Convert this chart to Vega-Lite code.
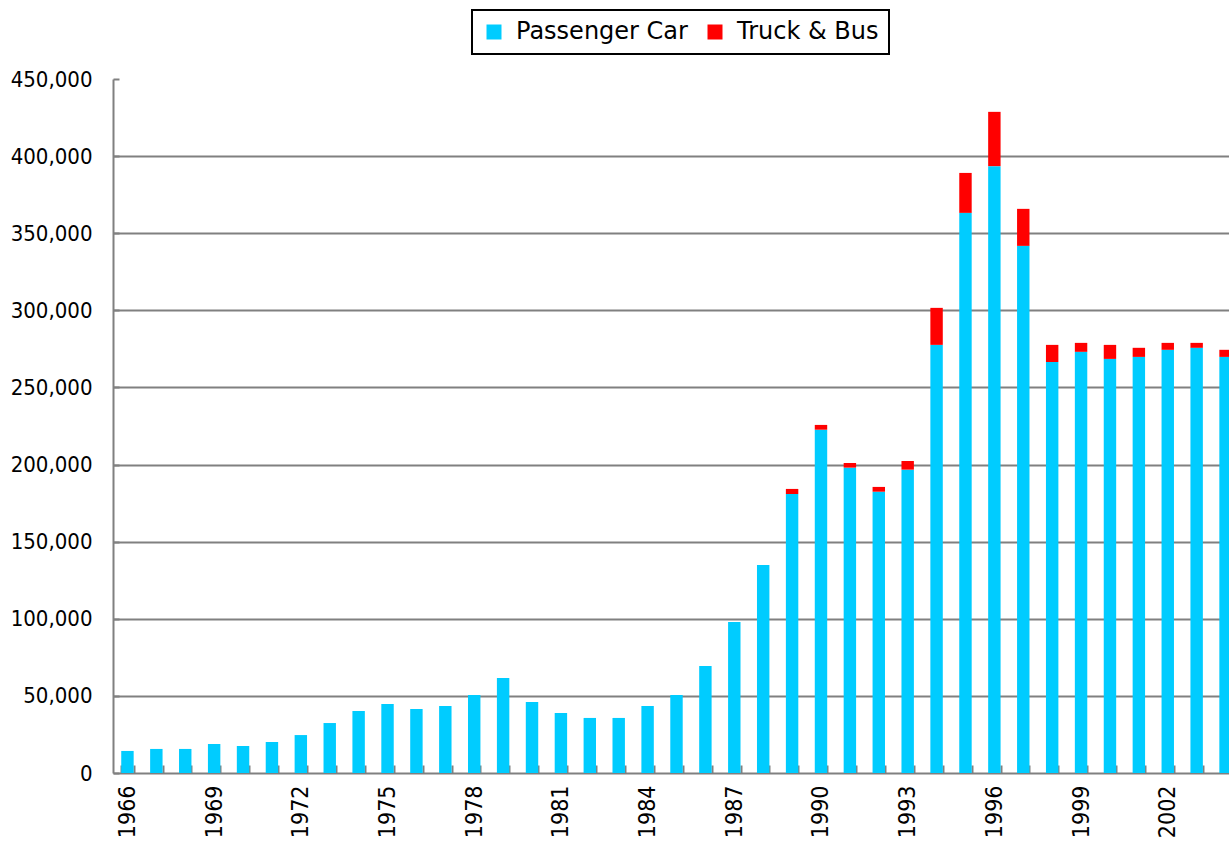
{
  "$schema": "https://vega.github.io/schema/vega-lite/v6.json",
  "width": 1127,
  "height": 694,
  "autosize": {"type": "none"},
  "padding": {"left": 113, "top": 79, "right": 0, "bottom": 69},
  "background": "white",
  "config": {"view": {"stroke": null}},
  "data": {"values": [
    {"year": 1966, "type": "Passenger Car", "value": 14300},
    {"year": 1967, "type": "Passenger Car", "value": 15600},
    {"year": 1968, "type": "Passenger Car", "value": 15600},
    {"year": 1969, "type": "Passenger Car", "value": 18800},
    {"year": 1970, "type": "Passenger Car", "value": 17500},
    {"year": 1971, "type": "Passenger Car", "value": 20100},
    {"year": 1972, "type": "Passenger Car", "value": 24600},
    {"year": 1973, "type": "Passenger Car", "value": 32400},
    {"year": 1974, "type": "Passenger Car", "value": 40200},
    {"year": 1975, "type": "Passenger Car", "value": 44700},
    {"year": 1976, "type": "Passenger Car", "value": 41500},
    {"year": 1977, "type": "Passenger Car", "value": 43400},
    {"year": 1978, "type": "Passenger Car", "value": 50600},
    {"year": 1979, "type": "Passenger Car", "value": 61600},
    {"year": 1980, "type": "Passenger Car", "value": 46000},
    {"year": 1981, "type": "Passenger Car", "value": 38900},
    {"year": 1982, "type": "Passenger Car", "value": 35700},
    {"year": 1983, "type": "Passenger Car", "value": 35700},
    {"year": 1984, "type": "Passenger Car", "value": 43400},
    {"year": 1985, "type": "Passenger Car", "value": 50600},
    {"year": 1986, "type": "Passenger Car", "value": 69400},
    {"year": 1987, "type": "Passenger Car", "value": 97900},
    {"year": 1988, "type": "Passenger Car", "value": 134900},
    {"year": 1989, "type": "Passenger Car", "value": 180900},
    {"year": 1990, "type": "Passenger Car", "value": 222600},
    {"year": 1991, "type": "Passenger Car", "value": 198000},
    {"year": 1992, "type": "Passenger Car", "value": 182400},
    {"year": 1993, "type": "Passenger Car", "value": 196700},
    {"year": 1994, "type": "Passenger Car", "value": 277600},
    {"year": 1995, "type": "Passenger Car", "value": 363200},
    {"year": 1996, "type": "Passenger Car", "value": 393500},
    {"year": 1997, "type": "Passenger Car", "value": 341800},
    {"year": 1998, "type": "Passenger Car", "value": 266500},
    {"year": 1999, "type": "Passenger Car", "value": 273100},
    {"year": 2000, "type": "Passenger Car", "value": 268500},
    {"year": 2001, "type": "Passenger Car", "value": 269800},
    {"year": 2002, "type": "Passenger Car", "value": 274400},
    {"year": 2003, "type": "Passenger Car", "value": 275700},
    {"year": 2004, "type": "Passenger Car", "value": 269800},
    {"year": 1989, "type": "Truck & Bus", "value": 3300},
    {"year": 1990, "type": "Truck & Bus", "value": 3100},
    {"year": 1991, "type": "Truck & Bus", "value": 3000},
    {"year": 1992, "type": "Truck & Bus", "value": 3100},
    {"year": 1993, "type": "Truck & Bus", "value": 5600},
    {"year": 1994, "type": "Truck & Bus", "value": 24000},
    {"year": 1995, "type": "Truck & Bus", "value": 25900},
    {"year": 1996, "type": "Truck & Bus", "value": 35200},
    {"year": 1997, "type": "Truck & Bus", "value": 24000},
    {"year": 1998, "type": "Truck & Bus", "value": 11100},
    {"year": 1999, "type": "Truck & Bus", "value": 5800},
    {"year": 2000, "type": "Truck & Bus", "value": 9100},
    {"year": 2001, "type": "Truck & Bus", "value": 5900},
    {"year": 2002, "type": "Truck & Bus", "value": 4500},
    {"year": 2003, "type": "Truck & Bus", "value": 3200},
    {"year": 2004, "type": "Truck & Bus", "value": 4600}
  ]},
  "mark": {"type": "bar"},
  "encoding": {
    "x": {
      "field": "year",
      "type": "ordinal",
      "scale": {"paddingInner": 0.57, "paddingOuter": 0.285},
      "axis": {
        "title": null,
        "labelAngle": -90,
        "labelExpr": "(datum.value - 1966) % 3 == 0 ? datum.value : ''",
        "labelFont": "DejaVu Sans Condensed",
        "labelFontSize": 23,
        "labelColor": "black",
        "labelPadding": 20,
        "tickBand": "extent",
        "tickSize": -8,
        "tickColor": "#808080",
        "tickWidth": 2,
        "domainColor": "#808080",
        "domainWidth": 2,
        "grid": false
      }
    },
    "y": {
      "field": "value",
      "type": "quantitative",
      "stack": "zero",
      "scale": {"domain": [0, 450000], "nice": false},
      "axis": {
        "title": null,
        "values": [0, 50000, 100000, 150000, 200000, 250000, 300000, 350000, 400000, 450000],
        "format": ",.0f",
        "labelFont": "DejaVu Sans Condensed",
        "labelFontSize": 22,
        "labelColor": "black",
        "labelPadding": 27,
        "tickSize": -6,
        "tickColor": "#808080",
        "tickWidth": 2,
        "domainColor": "#808080",
        "domainWidth": 2,
        "grid": true,
        "gridColor": "#808080",
        "gridWidth": 2,
        "gridOpacity": {"condition": {"test": "datum.value >= 450000 || datum.value <= 0", "value": 0}, "value": 1}
      }
    },
    "order": {"field": "type", "sort": "ascending"},
    "color": {
      "field": "type",
      "type": "nominal",
      "scale": {"domain": ["Passenger Car", "Truck & Bus"], "range": ["#00CCFF", "#FF0000"]},
      "legend": {
        "title": null,
        "orient": "none",
        "legendX": 359,
        "legendY": -69,
        "direction": "horizontal",
        "symbolType": "square",
        "symbolSize": 225,
        "symbolStrokeWidth": 0,
        "labelFont": "DejaVu Sans",
        "labelFontSize": 24,
        "labelColor": "black",
        "labelLimit": 400,
        "labelOffset": 10,
        "columnPadding": 15,
        "padding": 10,
        "strokeColor": "black",
        "encode": {"legend": {"update": {"strokeWidth": {"value": 2}}}}
      }
    }
  }
}
